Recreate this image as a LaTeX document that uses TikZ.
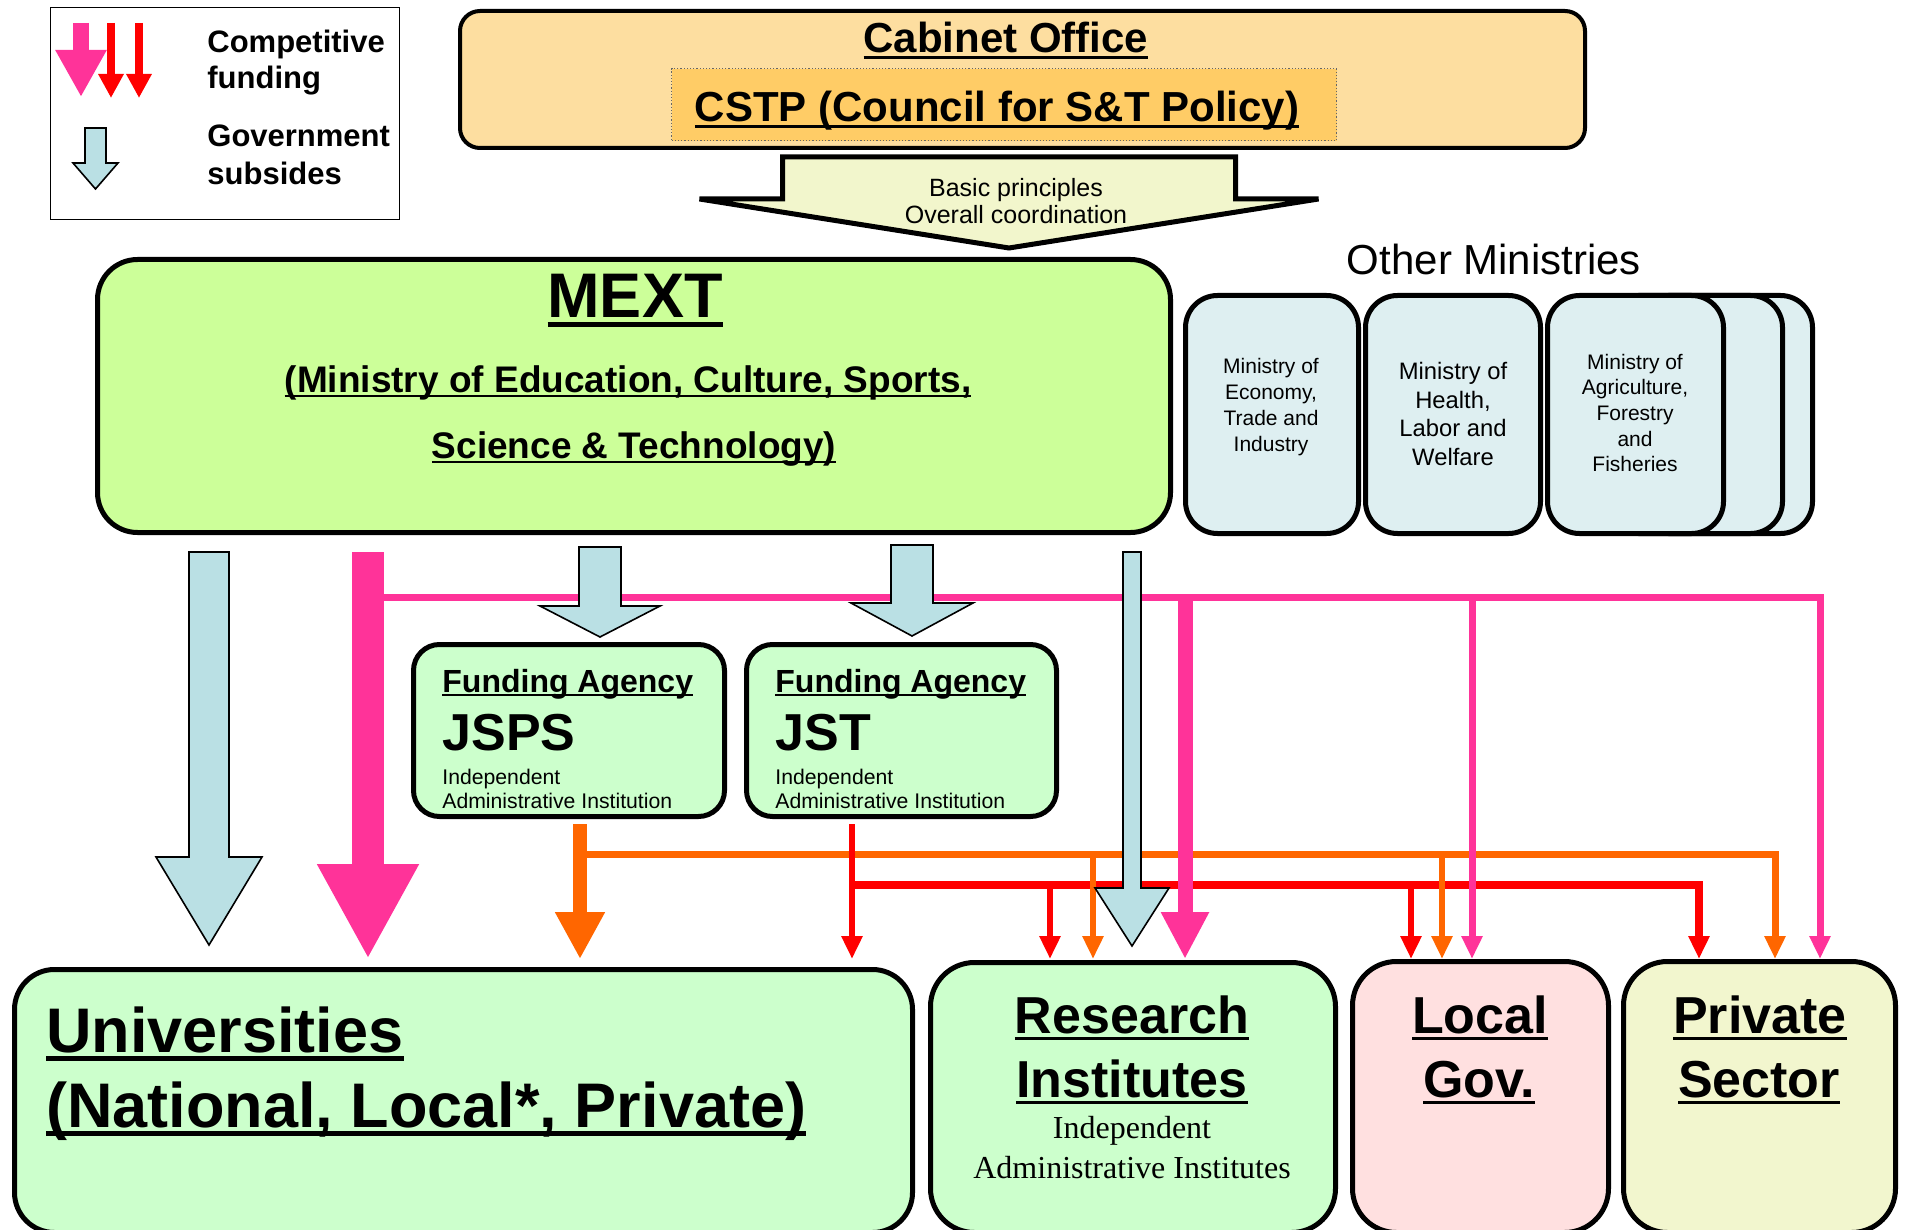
\documentclass[tikz,border=0pt]{standalone}
\usepackage{fontspec}
\setmainfont{Liberation Sans}
\newfontfamily\timesfont{Liberation Serif}
\usetikzlibrary{arrows.meta,calc,positioning}

\definecolor{cabinetorange}{RGB}{253,222,160}
\definecolor{cstporange}{RGB}{255,204,102}
\definecolor{principleyellow}{RGB}{242,246,204}
\definecolor{mextgreen}{RGB}{204,255,153}
\definecolor{ministryblue}{RGB}{222,239,241}
\definecolor{subsidyblue}{RGB}{186,224,228}
\definecolor{instgreen}{RGB}{204,255,204}
\definecolor{localpink}{RGB}{255,224,224}
\definecolor{privateyellow}{RGB}{242,246,206}
\definecolor{fundpink}{RGB}{255,51,153}
\definecolor{fundorange}{RGB}{255,102,0}
\definecolor{fundred}{RGB}{255,0,0}

% word-style underline
\newcommand{\ulx}[1]{\setbox0=\hbox{#1}\rlap{\vrule height -0.07em depth 0.14em width \wd0}\box0}

% block arrow: top, tip, shaft half width, head half width, head length
\newcommand{\blockarrow}[6][]{%
  \draw[#1] ($(#2)+(-#4,0)$) -- ($(#3)+(-#4,-#6)$) -- ($(#3)+(-#5,-#6)$) -- (#3)
    -- ($(#3)+(#5,-#6)$) -- ($(#3)+(#4,-#6)$) -- ($(#2)+(#4,0)$) -- cycle;}

\tikzset{
    panel/.style={
           rectangle,
           rounded corners=#1,
           draw=black, line width=2.5pt,
           inner sep=0pt,
           anchor=north west
           },
    panel/.default=20pt,
    txt/.style={inner sep=0pt, anchor=base},
    txtleft/.style={inner sep=0pt, anchor=base west},
    subsidy/.style={fill=subsidyblue, draw=black, line width=0.8pt, line join=miter},
    thintip/.style={-{Triangle[width=10pt,length=11.5pt]}},
    bigtip/.style={-{Triangle[width=23.5pt,length=23.5pt]}},
}

\begin{document}
\begin{tikzpicture}[x=0.5pt,y=-0.5pt]
\useasboundingbox (0,0) rectangle (1906,1230);
\clip (0,0) rectangle (1906,1230);

% Legend
\node[panel=0pt, line width=0.7pt, minimum width=174.5pt, minimum height=106pt] (legend) at (50,7) {};
\coordinate (lgPinkA) at (81,23);
\coordinate (lgPinkB) at (81,97);
\coordinate (lgRedA) at (111,23);
\coordinate (lgRedB) at (111,98);
\coordinate (lgRedC) at (139,23);
\coordinate (lgRedD) at (139,98);
\coordinate (lgBlueA) at (95.5,128);
\coordinate (lgBlueB) at (95.5,189);
\draw[fundpink, line width=8pt, -{Triangle[width=24pt,length=23.5pt]}] (lgPinkA) -- (lgPinkB);
\draw[fundred, line width=4pt, -{Triangle[width=12pt,length=12pt]}] (lgRedA) -- (lgRedB);
\draw[fundred, line width=4pt, -{Triangle[width=12pt,length=12pt]}] (lgRedC) -- (lgRedD);
\blockarrow[subsidy]{lgBlueA}{lgBlueB}{10.5}{22.5}{26}
\node[txtleft, font=\bfseries\fontsize{15.5}{18}\selectfont] (lgComp) at (207,53) {Competitive};
\node[txtleft, font=\bfseries\fontsize{15.5}{18}\selectfont] (lgFund) at (207,89) {funding};
\node[txtleft, font=\bfseries\fontsize{15.5}{18}\selectfont] (lgGov) at (207,147) {Government};
\node[txtleft, font=\bfseries\fontsize{15.5}{18}\selectfont] (lgSub) at (207,185) {subsides};

% Cabinet Office
\node[panel=10pt, line width=2pt, fill=cabinetorange, minimum width=562.5pt, minimum height=68.5pt] (cabinet) at (458,9) {};
\node[panel=0pt, draw=black!60, line width=0.6pt, densely dotted, fill=cstporange, minimum width=332.5pt, minimum height=36pt] (cstp) at (671,68) {};
\node[txt, font=\bfseries\fontsize{21}{25}\selectfont] (cabinetTitle) at (1006,53) {\ulx{Cabinet Office}};
\node[txt, font=\bfseries\fontsize{21}{25}\selectfont] (cstpTitle) at (997,122) {\ulx{CSTP (Council for S\&T Policy)}};

% Basic principles
\coordinate (cabinetOut) at (1009,157);
\coordinate (mextIn) at (1009,248);
\blockarrow[fill=principleyellow, draw=black, line width=2.5pt, line join=miter]{cabinetOut}{mextIn}{226.5}{309.5}{49}
\node[txt, font=\fontsize{12.5}{15}\selectfont] (principlesA) at (1016,197) {Basic principles};
\node[txt, font=\fontsize{12.5}{15}\selectfont] (principlesB) at (1016,224) {Overall coordination};

% MEXT
\node[panel=20pt, fill=mextgreen, minimum width=536.5pt, minimum height=136.5pt] (mext) at (95,257) {};
\node[txt, font=\bfseries\fontsize{31.5}{36}\selectfont] (mextTitle) at (635,318) {\ulx{MEXT}};
\node[txt, font=\bfseries\fontsize{18.5}{22}\selectfont] (mextNameA) at (628,392) {\ulx{(Ministry of Education, Culture, Sports,}};
\node[txt, font=\bfseries\fontsize{18.5}{22}\selectfont] (mextNameB) at (634,458) {\ulx{Science \& Technology)}};

% Other ministries
\node[txt, font=\fontsize{21}{24}\selectfont] (otherTitle) at (1494,275) {Other Ministries};
\node[panel=16pt, fill=ministryblue, minimum width=88pt, minimum height=119pt] (minBackB) at (1634,293) {};
\node[panel=16pt, fill=ministryblue, minimum width=88pt, minimum height=119pt] (minBackA) at (1604,293) {};
\node[panel=16pt, fill=ministryblue, minimum width=88pt, minimum height=119pt] (maff) at (1545,293) {};
\node[panel=16pt, fill=ministryblue, minimum width=86.5pt, minimum height=119pt] (meti) at (1183,293) {};
\node[panel=16pt, fill=ministryblue, minimum width=87.5pt, minimum height=119pt] (mhlw) at (1363,293) {};
\node[inner sep=0pt, align=center, font=\fontsize{10.5}{13}\selectfont] (metiText) at (1271,407) {Ministry of\\Economy,\\Trade and\\Industry};
\node[inner sep=0pt, align=center, font=\fontsize{11.9}{14.3}\selectfont] (mhlwText) at (1453,414) {Ministry of\\Health,\\Labor and\\Welfare};
\node[inner sep=0pt, align=center, font=\fontsize{10.5}{12.8}\selectfont] (maffText) at (1635,413) {Ministry of\\Agriculture,\\Forestry\\and\\Fisheries};

% Competitive funding from MEXT
\coordinate (mextPink) at (368,552);
\coordinate (uniPink) at (368,959);
\coordinate (pinkBranch) at (368,597);
\coordinate (resPink) at (1185,959);
\coordinate (locPink) at (1472,959);
\coordinate (privPink) at (1820,959);
\draw[fundpink, line width=16pt, -{Triangle[width=47.5pt,length=47.5pt]}] (mextPink) -- (uniPink);
\draw[fundpink, line width=3.5pt, thintip] (pinkBranch) -- (pinkBranch -| privPink) -- (privPink);

% Competitive funding from JST
\coordinate (jstOut) at (852,824);
\coordinate (uniRed) at (852,959);
\coordinate (redBranch) at (852,885);
\coordinate (resRed) at (1050,959);
\coordinate (locRed) at (1411,959);
\coordinate (privRed) at (1699,959);
\draw[fundred, line width=4pt, thintip] (redBranch) -- (redBranch -| privRed) -- (privRed);
\draw[fundred, line width=3pt, thintip] (redBranch -| resRed) -- (resRed);
\draw[fundred, line width=3pt, thintip] (redBranch -| locRed) -- (locRed);

% Competitive funding from JSPS
\coordinate (jspsOut) at (580,824);
\coordinate (uniOrange) at (580,959);
\coordinate (orangeBranch) at (580,854);
\coordinate (resOrange) at (1093,959);
\coordinate (locOrange) at (1442,959);
\coordinate (privOrange) at (1775,959);
\draw[fundorange, line width=7pt, bigtip] (jspsOut) -- (uniOrange);
\draw[fundorange, line width=3.5pt, thintip] (orangeBranch) -- (orangeBranch -| privOrange) -- (privOrange);
\draw[fundorange, line width=3pt, thintip] (orangeBranch -| resOrange) -- (resOrange);
\draw[fundorange, line width=3pt, thintip] (orangeBranch -| locOrange) -- (locOrange);
\draw[fundred, line width=3pt, thintip] (jstOut) -- (uniRed);

\draw[fundpink, line width=7.5pt, -{Triangle[width=22.5pt,length=23.5pt]}] (pinkBranch -| resPink) -- (resPink);
\draw[fundpink, line width=3.5pt, thintip] (pinkBranch -| locPink) -- (locPink);

% Government subsidies
\coordinate (mextSubUni) at (209,552);
\coordinate (uniSub) at (209,945);
\coordinate (mextSubJsps) at (600,547);
\coordinate (jspsIn) at (600,637);
\coordinate (mextSubJst) at (912,545);
\coordinate (jstIn) at (912,636);
\coordinate (mextSubRes) at (1132,552);
\coordinate (resSub) at (1132,946);
\blockarrow[subsidy]{mextSubUni}{uniSub}{20}{53}{88}
\blockarrow[subsidy]{mextSubJsps}{jspsIn}{21}{60}{31}
\blockarrow[subsidy]{mextSubJst}{jstIn}{21}{61}{33}
\blockarrow[subsidy]{mextSubRes}{resSub}{9}{37}{58}

% Funding agencies
\node[panel=13pt, fill=instgreen, minimum width=155.5pt, minimum height=86pt] (jsps) at (411,642) {};
\node[panel=13pt, fill=instgreen, minimum width=155pt, minimum height=86pt] (jst) at (744,642) {};
\node[txtleft, font=\bfseries\fontsize{16}{19}\selectfont] (jspsKind) at (442,692) {\ulx{Funding Agency}};
\node[txtleft, font=\bfseries\fontsize{26}{30}\selectfont] (jspsName) at (442,750) {JSPS};
\node[txtleft, font=\fontsize{10.6}{12}\selectfont] (jspsTypeA) at (442,784) {Independent};
\node[txtleft, font=\fontsize{10.6}{12}\selectfont] (jspsTypeB) at (442,808) {Administrative Institution};
\node[txtleft, font=\bfseries\fontsize{16}{19}\selectfont] (jstKind) at (775,692) {\ulx{Funding Agency}};
\node[txtleft, font=\bfseries\fontsize{26}{30}\selectfont] (jstName) at (775,750) {JST};
\node[txtleft, font=\fontsize{10.6}{12}\selectfont] (jstTypeA) at (775,784) {Independent};
\node[txtleft, font=\fontsize{10.6}{12}\selectfont] (jstTypeB) at (775,808) {Administrative Institution};

% Receivers
\node[panel=20pt, fill=instgreen, minimum width=449pt, minimum height=131.5pt] (univ) at (12,967) {};
\node[panel=22pt, fill=instgreen, minimum width=202.5pt, minimum height=135pt] (research) at (928,960) {};
\node[panel=22pt, fill=localpink, minimum width=128pt, minimum height=135.5pt] (localgov) at (1350,959) {};
\node[panel=22pt, fill=privateyellow, minimum width=136pt, minimum height=135.5pt] (private) at (1621,959) {};

\node[txtleft, font=\bfseries\fontsize{31.5}{36}\selectfont] (univTitle) at (46,1052) {\ulx{Universities}};
\node[txtleft, font=\bfseries\fontsize{31.5}{36}\selectfont] (univKinds) at (46,1127) {\ulx{(National, Local*, Private)}};
\node[txt, font=\bfseries\fontsize{26}{30}\selectfont] (researchA) at (1132,1033) {\ulx{Research}};
\node[txt, font=\bfseries\fontsize{26}{30}\selectfont] (researchB) at (1132,1097) {\ulx{Institutes}};
\node[txt, font=\timesfont\fontsize{16}{20}\selectfont] (researchC) at (1132,1138) {Independent};
\node[txt, font=\timesfont\fontsize{16}{20}\selectfont] (researchD) at (1132,1178) {Administrative Institutes};
\node[txt, font=\bfseries\fontsize{26}{30}\selectfont] (localA) at (1480,1033) {\ulx{Local}};
\node[txt, font=\bfseries\fontsize{26}{30}\selectfont] (localB) at (1479,1097) {\ulx{Gov.}};
\node[txt, font=\bfseries\fontsize{26}{30}\selectfont] (privateA) at (1760,1033) {\ulx{Private}};
\node[txt, font=\bfseries\fontsize{26}{30}\selectfont] (privateB) at (1759,1097) {\ulx{Sector}};

\end{tikzpicture}
\end{document}
